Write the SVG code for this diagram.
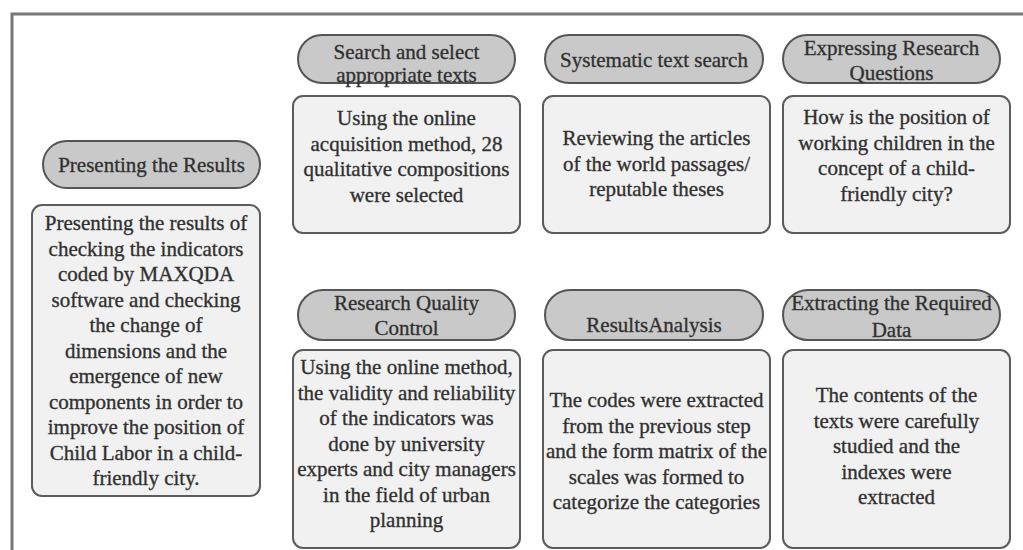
<svg xmlns="http://www.w3.org/2000/svg" width="1023" height="550" viewBox="0 0 1023 550">
<style>
.pill{fill:#c9c9c9;stroke:#555;stroke-width:2}
.box{fill:#f1f1f1;stroke:#5c5c5c;stroke-width:2}
text{font-family:"Liberation Serif","Times New Roman",serif;font-size:21px;fill:#2e2e2e;stroke:#3a3a3a;stroke-width:0.35;text-anchor:middle}
</style>
<rect x="0" y="0" width="1023" height="550" fill="#fff"/>
<path d="M12,552 V14 H1024" fill="none" stroke="#777" stroke-width="3"/>
<g id="connectors"/>
<g id="n-present-title">
<rect class="pill" x="43" y="141" width="217" height="47" rx="23.5"/>
<text x="151.5" y="172">Presenting the Results</text>
</g>
<g id="n-present-body">
<rect class="box" x="32" y="205" width="228" height="291" rx="10"/>
<text x="146" y="230">Presenting the results of</text>
<text x="146" y="255.5">checking the indicators</text>
<text x="146" y="281">coded by MAXQDA</text>
<text x="146" y="306.5">software and checking</text>
<text x="146" y="332">the change of</text>
<text x="146" y="357.5">dimensions and the</text>
<text x="146" y="383">emergence of new</text>
<text x="146" y="408.5">components in order to</text>
<text x="146" y="434">improve the position of</text>
<text x="146" y="459.5">Child Labor in a child-</text>
<text x="146" y="485">friendly city.</text>
</g>
<g id="n-search-title">
<rect class="pill" x="298" y="35" width="217" height="48" rx="24"/>
<text x="406.5" y="59">Search and select</text>
<text x="406.5" y="82">appropriate texts</text>
</g>
<g id="n-search-body">
<rect class="box" x="293" y="96" width="227" height="137" rx="10"/>
<text x="406.5" y="125">Using the online</text>
<text x="406.5" y="150.5">acquisition method, 28</text>
<text x="406.5" y="176">qualitative compositions</text>
<text x="406.5" y="201.5">were selected</text>
</g>
<g id="n-systematic-title">
<rect class="pill" x="545" y="35" width="218" height="48" rx="24"/>
<text x="654" y="67">Systematic text search</text>
</g>
<g id="n-systematic-body">
<rect class="box" x="543" y="96" width="227" height="137" rx="10"/>
<text x="656.5" y="145">Reviewing the articles</text>
<text x="656.5" y="170.5">of the world passages/</text>
<text x="656.5" y="196">reputable theses</text>
</g>
<g id="n-questions-title">
<rect class="pill" x="783" y="35" width="217" height="48" rx="24"/>
<text x="891.5" y="55">Expressing Research</text>
<text x="891.5" y="80">Questions</text>
</g>
<g id="n-questions-body">
<rect class="box" x="783" y="96" width="227" height="137" rx="10"/>
<text x="896.5" y="124">How is the position of</text>
<text x="896.5" y="149.5">working children in the</text>
<text x="896.5" y="175">concept of a child-</text>
<text x="896.5" y="200.5">friendly city?</text>
</g>
<g id="n-quality-title">
<rect class="pill" x="298" y="290" width="217" height="50" rx="25"/>
<text x="406.5" y="310">Research Quality</text>
<text x="406.5" y="335">Control</text>
</g>
<g id="n-quality-body">
<rect class="box" x="293" y="350" width="227" height="198" rx="10"/>
<text x="406.5" y="374">Using the online method,</text>
<text x="406.5" y="399.5">the validity and reliability</text>
<text x="406.5" y="425">of the indicators was</text>
<text x="406.5" y="450.5">done by university</text>
<text x="406.5" y="476">experts and city managers</text>
<text x="406.5" y="501.5">in the field of urban</text>
<text x="406.5" y="527">planning</text>
</g>
<g id="n-analysis-title">
<rect class="pill" x="545" y="290" width="218" height="50" rx="25"/>
<text x="654" y="332">ResultsAnalysis</text>
</g>
<g id="n-analysis-body">
<rect class="box" x="543" y="350" width="227" height="198" rx="10"/>
<text x="656.5" y="407">The codes were extracted</text>
<text x="656.5" y="432.5">from the previous step</text>
<text x="656.5" y="458">and the form matrix of the</text>
<text x="656.5" y="483.5">scales was formed to</text>
<text x="656.5" y="509">categorize the categories</text>
</g>
<g id="n-extract-title">
<rect class="pill" x="783" y="290" width="217" height="50" rx="25"/>
<text x="891.5" y="310">Extracting the Required</text>
<text x="891.5" y="337">Data</text>
</g>
<g id="n-extract-body">
<rect class="box" x="783" y="350" width="227" height="198" rx="10"/>
<text x="896.5" y="402">The contents of the</text>
<text x="896.5" y="427.5">texts were carefully</text>
<text x="896.5" y="453">studied and the</text>
<text x="896.5" y="478.5">indexes were</text>
<text x="896.5" y="504">extracted</text>
</g>
</svg>
